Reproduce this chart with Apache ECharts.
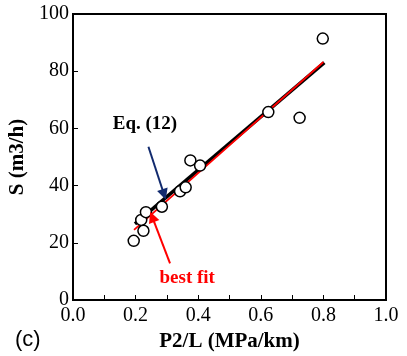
<!DOCTYPE html>
<html>
<head>
<meta charset="utf-8">
<style>
  html, body { margin: 0; padding: 0; background: #fff; }
  #chart { width: 407px; height: 356px; }
</style>
<script src="https://cdn.jsdelivr.net/npm/echarts@6/dist/echarts.min.js"></script>
</head>
<body>
<div id="chart"></div>
<script>
// Measured flow rate S against pressure gradient P2/L
const measured = [
  [0.194, 20.7], [0.218, 28.0], [0.225, 24.2], [0.233, 30.7],
  [0.284, 32.6], [0.342, 38.0], [0.360, 39.4], [0.375, 48.8],
  [0.406, 47.0], [0.624, 65.7], [0.724, 63.7], [0.798, 91.4]
];
// Model prediction, Eq. (12)
const eq12Line = [[0.198, 26.6], [0.803, 83.0]];
// Least-squares fit
const bestFitLine = [[0.195, 24.5], [0.800, 83.2]];
// Callout arrows: [from, to]
const eqArrow = [[0.241, 53.6], [0.291, 36.9]];
const fitArrow = [[0.310, 12.8], [0.253, 29.1]];
// Callout label anchors
const eqLabelPos = [0.230, 61.5];
const fitLabelPos = [0.365, 7.7];
const xTicks = [0.0, 0.2, 0.4, 0.6, 0.8, 1.0];
const yTicks = [0, 20, 40, 60, 80, 100];

const serif = '"Liberation Serif", "DejaVu Serif", serif';
const chart = echarts.init(document.getElementById('chart'));

chart.setOption({
  animation: false,
  grid: {
    left: 73, right: 21, top: 14, bottom: 56,
    outerBoundsMode: 'none', containLabel: false,
    show: true, borderColor: '#000', borderWidth: 2, backgroundColor: 'transparent'
  },
  xAxis: {
    type: 'value', min: xTicks[0], max: xTicks[xTicks.length - 1], interval: 0.2,
    name: 'P2/L (MPa/km)', nameLocation: 'middle', nameGap: 30,
    nameTextStyle: { fontFamily: serif, fontWeight: 'bold', fontSize: 21, color: '#000' },
    axisLine: { show: true, lineStyle: { color: '#000', width: 2 } },
    axisTick: { show: true, inside: true, length: 5, lineStyle: { color: '#000', width: 1 } },
    minorTick: { show: true, splitNumber: 2, length: 5, lineStyle: { color: '#000', width: 1 } },
    splitLine: { show: false },
    axisLabel: {
      fontFamily: serif, fontSize: 20, color: '#000', margin: 6,
      formatter: v => v.toFixed(1)
    }
  },
  yAxis: {
    type: 'value', min: yTicks[0], max: yTicks[yTicks.length - 1], interval: 20,
    name: 'S (m3/h)', nameLocation: 'middle', nameGap: 41,
    nameTextStyle: { fontFamily: serif, fontWeight: 'bold', fontSize: 21, color: '#000' },
    axisLine: { show: true, lineStyle: { color: '#000', width: 2 } },
    axisTick: { show: true, inside: true, length: 5, lineStyle: { color: '#000', width: 1 } },
    splitLine: { show: false },
    axisLabel: { fontFamily: serif, fontSize: 20, color: '#000', margin: 4 }
  },
  series: [
    {
      name: 'Eq. (12)', type: 'line', data: eq12Line, symbol: 'none', z: 2,
      lineStyle: { color: '#000', width: 3.5, opacity: 1 }
    },
    {
      name: 'best fit', type: 'line', data: bestFitLine, symbol: 'none', z: 3,
      lineStyle: { color: '#ff0000', width: 1.8, opacity: 1 }
    },
    {
      name: 'measured', type: 'scatter', data: measured, symbol: 'circle', symbolSize: 11, z: 4,
      itemStyle: { color: '#fff', borderColor: '#000', borderWidth: 1.5, opacity: 1 }
    },
    {
      type: 'lines', coordinateSystem: 'cartesian2d', z: 5,
      symbol: ['none', 'triangle'], symbolSize: [0, 11],
      data: [
        { coords: eqArrow, lineStyle: { color: '#112a6e', width: 2, opacity: 1 } },
        { coords: fitArrow, lineStyle: { color: '#ff0000', width: 2, opacity: 1 } }
      ]
    },
    {
      type: 'scatter', symbolSize: 0, z: 6, silent: true,
      itemStyle: { opacity: 1 },
      data: [
        { value: eqLabelPos, label: { show: true, position: 'inside', formatter: 'Eq. (12)', color: '#000' } },
        { value: fitLabelPos, label: { show: true, position: 'inside', formatter: 'best fit', color: '#ff0000' } }
      ],
      label: { fontFamily: serif, fontWeight: 'bold', fontSize: 19, opacity: 1 }
    }
  ],
  graphic: [
    {
      type: 'text', left: 15, top: 329,
      style: { text: '(c)', font: '22px "Liberation Sans", Arial, sans-serif', fill: '#000' }
    }
  ]
});
</script>
</body>
</html>
